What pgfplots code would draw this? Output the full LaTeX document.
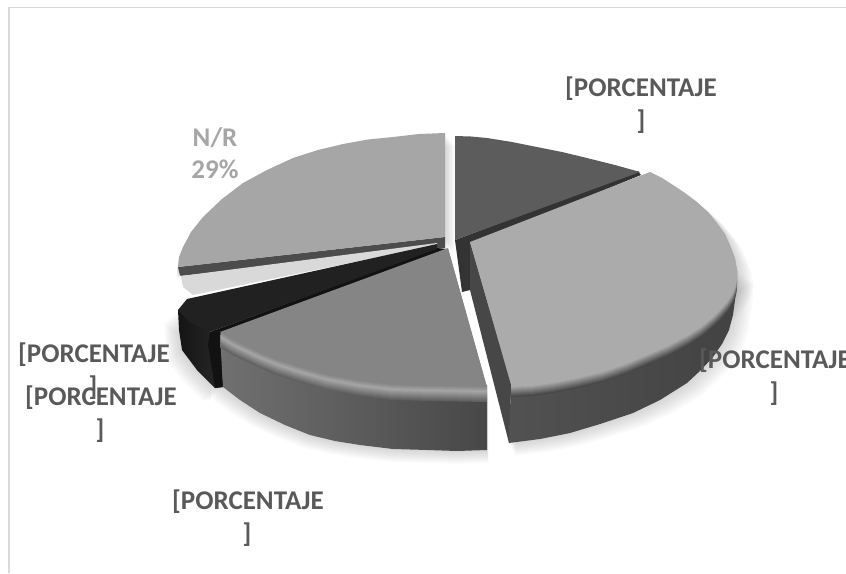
\documentclass[border=0pt]{standalone}
\usepackage{pgfplots}
\usepackage{pgfplotstable}
\usepackage{fontspec}
\setmainfont{Carlito}
\pgfplotsset{compat=1.18}

\definecolor{labelgrey}{HTML}{595959}
\definecolor{nrgrey}{HTML}{A6A6A6}
\definecolor{frame}{HTML}{D9D9D9}
\definecolor{mediumface}{HTML}{858585}
\definecolor{mediumhigh}{HTML}{A6A6A6}
\definecolor{mediumside}{HTML}{606060}
\definecolor{lightface}{HTML}{ABABAB}
\definecolor{lightside}{HTML}{474747}

% Outlines of the slice faces and of their side walls, in picture units
\pgfplotstableread{
x y
445 133
419 134
393 137
368 139.5
343 144
318 150
293 158
267 170
243 183
222 199
203 217
191 232
183 247
179 257
178 267
445 237
}\faceNR
\pgfplotstableread{
x y
178 267
445 237
445 248
438 248
180 276
}\wallNR
\pgfplotstableread{
x y
455 240
455 136
471 136.5
487 138
512 142
537 147
562 152
587 158
615 165
640 172
}\faceDark
\pgfplotstableread{
x y
455 240
638 171
641 175
470 245
470 290
462 292
}\wallDark
\pgfplotstableread{
x y
470 242
650 172
662 178
673 185
685 193
697 202
708 212
717 223
725 234
730 245
735 258
737 270
736 280
733 288
728 296
721 304
713 312
701 322
687 331
668 341
647 350
626 359
603 367
578 373
553 378
532 381
511 382
}\faceLight
\pgfplotstableread{
x y
737 270
737 285
735 300
733 315
729 330
722 344
713 357
701 370
687 383
660 400
633 413
600 424
570 433
540 439
509 443
511 380
}\wallLight
\pgfplotstableread{
x y
470 242
511 385
509 443
470 290
}\cutLight
\pgfplotstableread{
x y
437 243
181 276
183 287
193 295
437 245
}\faceWhite
\pgfplotstableread{
x y
181 275
178 280
180 290
185 300
193 295
183 287
}\rimWhite
\pgfplotstableread{
x y
437 244
187 299
178 310
190 322
210 332
437 249
}\faceBlack
\pgfplotstableread{
x y
178 310
179 330
182 350
197 370
215 388
223 387
220 335
210 332
}\wallBlack
\pgfplotstableread{
x y
447 249
437 248
210 332
208 345
215 388
223 387
221 335
}\bandBlack
\pgfplotstableread{
x y
448 248
487 387
430 386
393 385
360 381
327 375
302 368
277 360
260 353
243 345
231 339
220 332
}\faceMedium
\pgfplotstableread{
x y
220 335
223 387
240 400
260 413
285 425
310 435
335 441
360 445
393 449
427 450
457 451
487 450
487 385
}\wallMedium

% Soft shadow: the same outline, slightly enlarged and moved by #2 per step, at low opacity
\newcommand{\softshadow}[2]{%
  \pgfplotsinvokeforeach{1,2,...,7}{%
    \addplot[fill=black,draw=none,fill opacity=0.022,forget plot]
      table[x expr={455+(\thisrow{x}-455)*(1+0.006*##1)+#2*##1},
            y expr={\thisrow{y}+1.8*##1}] {#1};
  }%
}

% Rounded rim: the face is repeated downwards, from wall tone through highlight to face tone
\newcommand{\rim}[4]{%
  \pgfplotsinvokeforeach{0,10,...,90}{%
    \addplot[fill=#3!##1!#4,draw=none,forget plot]
      table[y expr={\thisrow{y}+15-0.1*##1}] {#1};
  }%
  \pgfplotsinvokeforeach{0,20,...,80}{%
    \addplot[fill=#2!##1!#3,draw=none,forget plot]
      table[y expr={\thisrow{y}+5-0.05*##1}] {#1};
  }%
}

\newcommand{\lbl}[4]{\node[anchor=base,inner sep=0pt,text=#4,font=\fontsize{27}{31}\selectfont\bfseries]
  at (axis cs:#1,#2) {#3};}

\begin{document}
\begin{tikzpicture}
\clip (0,0) rectangle (846pt,573pt);
\begin{axis}[
  at={(0,0)},anchor=south west,
  scale only axis,width=846pt,height=573pt,
  xmin=0,xmax=846,ymin=0,ymax=573,y dir=reverse,
  hide axis,clip=false]

% chart frame
\addplot[frame,line width=1.4pt,forget plot] coordinates {(846,7.5) (9,7.5) (9,573)};

% shadows
\softshadow{\faceNR}{1.4}
\softshadow{\wallMedium}{0}
\softshadow{\wallLight}{0.6}
\softshadow{\faceLight}{0.6}
\softshadow{\wallBlack}{-0.3}

% N/R slice
\addplot[fill=black!70,draw=none,forget plot] table {\wallNR};
\addplot[fill=nrgrey,draw=none,forget plot] table {\faceNR};

% dark slice
\addplot[fill=black!80,draw=none,forget plot] table {\wallDark};
\addplot[fill=black!64,draw=none,forget plot] table {\faceDark};

% pale slice
\addplot[fill=white,draw=none,forget plot] table {\rimWhite};
\addplot[fill=frame,draw=none,forget plot] table {\faceWhite};

% black slice
\addplot[left color=black!92,right color=black!84,draw=none,forget plot] table {\wallBlack};
\addplot[fill=black!93,draw=none,forget plot] table {\bandBlack};
\addplot[fill=black!87,draw=none,forget plot] table {\faceBlack};

% medium slice
\addplot[left color=black!56,right color=black!72,draw=none,forget plot] table {\wallMedium};
\rim{\faceMedium}{mediumface}{mediumhigh}{mediumside}
\addplot[fill=mediumface,draw=none,forget plot] table {\faceMedium};

% large exploded slice
\addplot[left color=black!68,right color=black!74,draw=none,forget plot] table {\wallLight};
\rim{\faceLight}{lightface}{lightface}{lightside}
\addplot[fill=lightside,draw=none,forget plot] table {\cutLight};
\addplot[fill=lightface,draw=none,forget plot] table {\faceLight};

% data labels
\lbl{641}{96}{[PORCENTAJE}{labelgrey}
\lbl{641}{129}{]}{labelgrey}
\lbl{215}{146}{N/R}{nrgrey}
\lbl{215}{178}{29\%}{nrgrey}
\lbl{775}{368}{[PORCENTAJE}{labelgrey}
\lbl{774}{401}{]}{labelgrey}
\lbl{94}{362}{[PORCENTAJE}{labelgrey}
\lbl{93}{395}{]}{labelgrey}
\lbl{101}{405}{[PORCENTAJE}{labelgrey}
\lbl{100}{438}{]}{labelgrey}
\lbl{248}{509}{[PORCENTAJE}{labelgrey}
\lbl{247}{542}{]}{labelgrey}
\end{axis}
\end{tikzpicture}
\end{document}
